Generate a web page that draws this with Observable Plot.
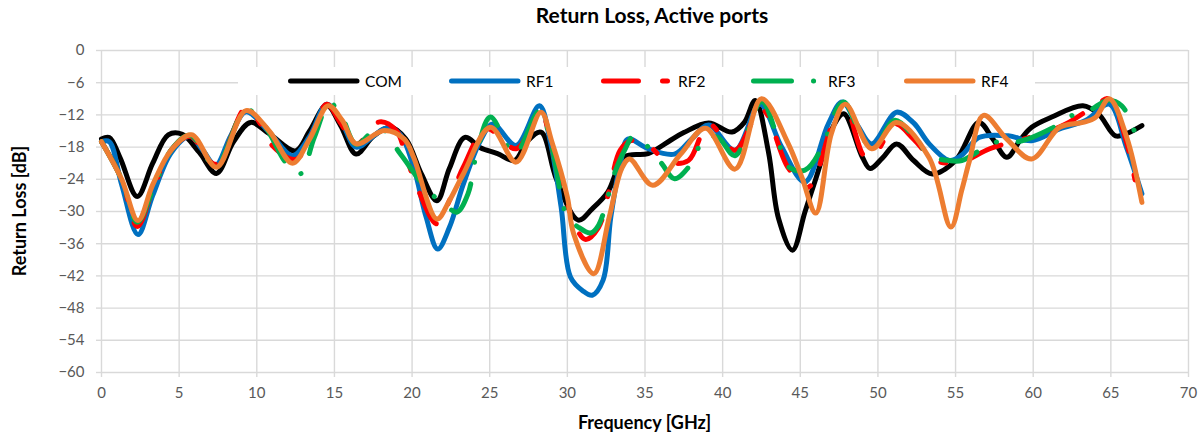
<!DOCTYPE html>
<html>
<head>
<meta charset="utf-8">
<script src="https://cdn.jsdelivr.net/npm/d3@7"></script>
<script src="https://cdn.jsdelivr.net/npm/@observablehq/plot@0.6"></script>
<style>
  html, body { margin: 0; padding: 0; background: #fff; }
  #wrap { position: relative; width: 1200px; height: 440px; font-family: Lato, "Open Sans", sans-serif; }
  #title { position: absolute; left: 0; width: 1304px; top: 2px; text-align: center; font-weight: bold; font-size: 21px; color: #000; }
  #xlab { position: absolute; left: 101px; width: 1087px; top: 411px; text-align: center; font-weight: bold; font-size: 18px; color: #000; }
  #ylab { position: absolute; left: 19px; top: 211px; transform: translate(-50%, -50%) rotate(-90deg); white-space: nowrap; font-weight: bold; font-size: 18px; color: #000; }
  #legend { position: absolute; left: 238px; top: 67px; width: 797px; height: 28px; background: #fff; }
  .li { position: absolute; top: 0; height: 28px; display: flex; align-items: center; font-size: 15.5px; color: #000; }
  .li svg { margin-right: 5px; }
</style>
</head>
<body>
<div id="wrap">
  <div id="chart"></div>
  <div id="title">Return Loss, Active ports</div>
  <div id="xlab">Frequency [GHz]</div>
  <div id="ylab">Return Loss [dB]</div>
  <div id="legend"></div>
</div>
<script>
// ---- data ----
const xTicks = [0, 5, 10, 15, 20, 25, 30, 35, 40, 45, 50, 55, 60, 65, 70];
const yTicks = [0, -6, -12, -18, -24, -30, -36, -42, -48, -54, -60];
const seriesNames = ["COM", "RF1", "RF2", "RF3", "RF4"];

const comFreq = [0, 0.5, 1.2, 2.3, 3.3, 4.3, 5.2, 6.3, 7.4, 8.5, 9.6, 10.8, 12.5, 13.4, 14.5, 15.4, 16.4, 17.5, 18.6, 19.6, 20.6, 21.6, 22.4, 23.4, 24.4, 25.5, 26.6, 27.4, 28.3, 29.3, 30.7, 31.6, 32.6, 33.7, 35.2, 36.5, 37.5, 39.1, 40.6, 41.4, 42.1, 42.95, 43.6, 44.5, 45.3, 46.0, 47.2, 47.8, 49.0, 49.5, 50.3, 51.2, 52.3, 53.5, 55, 56.5, 57.4, 58.3, 59.2, 59.9, 61.2, 63.2, 64.2, 65.3, 66.0, 67];
const comDb   = [-16.5, -16.2, -20, -27.2, -21, -15.7, -15.6, -19, -22.9, -17, -13.4, -15.5, -18.7, -15, -10.2, -14, -19.3, -16, -14.3, -16.5, -23, -28, -22, -16.2, -18.1, -19.2, -20.5, -17, -15.2, -24, -31.6, -29.5, -26.4, -19.8, -19.2, -17, -15.3, -13.5, -15.2, -13.4, -9.3, -18.9, -31.3, -37.2, -30.1, -23.9, -13.7, -11.8, -19.9, -22, -20, -17.4, -20.5, -23, -20.5, -13.4, -16.5, -19.9, -16.5, -14.3, -12.4, -10.3, -11.8, -15.9, -15.5, -14];

const rf1Freq = [0, 0.5, 1.3, 2.35, 3.3, 4.5, 5.7, 6.5, 7.35, 8.3, 9.3, 10.8, 12.3, 13.4, 14.5, 15.4, 16.4, 17.5, 18.3, 19.2, 20.1, 20.9, 21.65, 22.4, 23.3, 24.4, 25.2, 26.7, 28.2, 28.9, 29.6, 30.2, 31.0, 31.6, 32.3, 32.8, 33.45, 33.9, 35.2, 36.9, 38.0, 39.1, 40.8, 42.4, 43.8, 45.3, 46.8, 47.7, 48.7, 49.6, 51.2, 52.3, 53.3, 54.6, 55.4, 56.5, 58.4, 59.9, 61.7, 63.4, 64.9, 66.0, 67];
const rf1Db   = [-17, -17, -25, -34.3, -27, -19, -16, -18.5, -21.4, -16, -11.4, -15.2, -19.6, -16, -10, -13, -18, -16, -14.5, -15.5, -21.75, -31, -37, -33, -24.9, -16.8, -13.7, -17.7, -10.3, -17, -29.2, -42.2, -44.8, -45.6, -42.8, -31, -20.5, -16.5, -18.3, -19.3, -16.5, -13.9, -18.6, -10, -18, -24.5, -13.7, -9.6, -14, -17.4, -11.5, -13.5, -17.4, -20.5, -19.5, -16.2, -15.9, -16.8, -14.6, -13, -10, -18, -26.7];

const rf2Freq = [0, 1.3, 2.3, 3.3, 4.5, 5.7, 7.35, 9.3, 10.2, 11.0, 12.5, 13.5, 14.5, 15.4, 16.4, 17.9, 19.0, 19.6, 20.4, 21.6, 22.4, 23.3, 24.8, 26.7, 28.3, 29.0, 29.9, 31.15, 32.0, 32.7, 33.4, 34.1, 35.2, 36.5, 37.8, 39.1, 40.8, 42.5, 44.2, 45.5, 47.0, 47.8, 49.2, 50.0, 51.1, 52.3, 53.5, 54.5, 55.4, 57.2, 58.7, 60.6, 62.1, 64.0, 64.9, 66.0, 66.8];
const rf2Db   = [-17, -24, -32.8, -26, -18.5, -16, -21.2, -10.7, -13.5, -17.7, -20.3, -16, -10, -13.5, -17.5, -13.3, -15, -19.6, -26, -32.3, -28, -21.75, -14.6, -18.3, -11.8, -18, -28, -35.2, -33, -26, -18.6, -16.8, -17.7, -20.8, -20.5, -13.7, -18.6, -10.9, -21.75, -25.5, -14.3, -9.6, -19.9, -18.5, -13.7, -16.5, -20.2, -21, -20.8, -18.3, -17, -15.5, -13.7, -10.3, -9, -17, -28];

const rf3Freq = [0, 1.3, 2.3, 3.3, 4.5, 5.7, 7.35, 9.3, 10.5, 11.9, 12.8, 13.7, 14.7, 15.5, 16.4, 17.9, 19.25, 21.0, 22.3, 22.9, 23.6, 24.2, 25.05, 26.6, 28.2, 29.0, 30.0, 30.75, 31.5, 32.0, 33.1, 33.7, 34.3, 36.0, 36.9, 37.8, 38.9, 39.7, 40.8, 42.5, 43.5, 44.2, 45.3, 46.6, 47.0, 47.8, 49.2, 50.0, 51.1, 53.4, 54.6, 55.4, 57.2, 58.1, 59.0, 61.2, 62.5, 63.6, 64.8, 65.7, 66.4, 67];
const rf3Db   = [-17, -24, -32, -26, -18.5, -15.8, -21.5, -11, -14, -21, -23, -16.2, -9.8, -12.5, -17.5, -14.3, -19.3, -26, -29.2, -30.1, -26.7, -18.6, -12.4, -19.3, -11.3, -18, -31, -33, -34, -32.6, -22.4, -18.5, -15.9, -20.8, -23.9, -21.75, -16.2, -16.2, -19.6, -9.5, -16, -21.6, -22.3, -16.8, -13, -9.6, -17, -17, -13, -19.6, -20.5, -20.5, -17.5, -16.8, -17, -14.5, -12.1, -11.2, -9.3, -10.3, -14.3, -18];

const rf4Freq = [0, 1.3, 2.35, 3.3, 4.5, 5.8, 7.4, 9.3, 10.8, 12.3, 13.4, 14.6, 15.5, 16.4, 18.2, 19.5, 20.1, 21.6, 22.4, 23.3, 25.05, 26.7, 28.3, 29.0, 30.0, 30.4, 31.7, 32.7, 33.5, 34.0, 35.5, 37.3, 38.9, 40.8, 42.5, 44.2, 45.1, 46.0, 47.0, 47.9, 49.6, 51.2, 53.3, 54.7, 55.4, 55.9, 56.8, 58.3, 59.9, 61.7, 63.2, 64.0, 64.9, 66.0, 67];
const rf4Db   = [-17, -24, -31.7, -25, -18.5, -15.7, -21.75, -11.2, -15, -21, -16.5, -10.3, -13, -17.4, -14.9, -16.5, -19.9, -31.4, -28, -23, -14.3, -20.8, -11.5, -17, -27.3, -34.1, -41.6, -31, -22, -20.2, -25.1, -19.3, -14.5, -22.1, -9, -17.2, -23.6, -30.3, -15.5, -10, -18.3, -13.4, -20, -32.9, -26, -20.5, -12.1, -16.5, -20.2, -14.3, -13.4, -12.5, -9, -16, -28.3];

// ---- build ----
const toRows = (fs, ds) => fs.map((f, i) => ({f, db: ds[i]}));
const series = [
  {name: "COM", rows: toRows(comFreq, comDb), color: "#000000", dash: null},
  {name: "RF1", rows: toRows(rf1Freq, rf1Db), color: "#0070C0", dash: null},
  {name: "RF2", rows: toRows(rf2Freq, rf2Db), color: "#FF0000", dash: "35,24,5,24"},
  {name: "RF3", rows: toRows(rf3Freq, rf3Db), color: "#00B050", dash: "38,22,0.1,22"},
  {name: "RF4", rows: toRows(rf4Freq, rf4Db), color: "#ED7D31", dash: null}
];
const LW = 5;
const grid = "#d9d9d9";

const chart = Plot.plot({
  width: 1200,
  height: 440,
  marginLeft: 101,
  marginRight: 12,
  marginTop: 50,
  marginBottom: 68,
  style: {fontFamily: "Lato, 'Open Sans', sans-serif", fontSize: "15px", color: "#595959", background: "#fff"},
  x: {domain: [0, 70]},
  y: {domain: [-60, 0]},
  marks: [
    Plot.gridX(xTicks, {stroke: grid, strokeOpacity: 1, strokeWidth: 1.4}),
    Plot.gridY(yTicks, {stroke: grid, strokeOpacity: 1, strokeWidth: 1.4}),
    Plot.axisX(xTicks, {tickSize: 5, stroke: grid, strokeOpacity: 1, strokeWidth: 1.4, tickPadding: 10, label: null, fill: "#595959", fontSize: 15}),
    Plot.axisY(yTicks, {tickSize: 5, stroke: grid, strokeOpacity: 1, strokeWidth: 1.4, tickPadding: 12, label: null, fill: "#595959", fontSize: 15}),
    ...series.map(s => Plot.line(s.rows, {
      x: "f", y: "db", stroke: s.color, strokeWidth: LW, curve: "catmull-rom",
      strokeLinecap: "round", strokeLinejoin: "round",
      strokeDasharray: s.dash || undefined
    }))
  ]
});
document.getElementById("chart").appendChild(chart);

// legend
const legend = document.getElementById("legend");
const legendX = [50, 211, 363, 513, 666];
series.forEach((s, i) => {
  const item = document.createElement("div");
  item.className = "li";
  item.style.left = legendX[i] + "px";
  const svg = d3.create("svg").attr("width", 72).attr("height", 10);
  svg.append("line").attr("x1", 2.5).attr("x2", 69).attr("y1", 5).attr("y2", 5)
    .attr("stroke", s.color).attr("stroke-width", LW).attr("stroke-linecap", "round")
    .attr("stroke-dasharray", s.dash);
  item.appendChild(svg.node());
  const t = document.createElement("span");
  t.textContent = s.name;
  item.appendChild(t);
  legend.appendChild(item);
});
</script>
</body>
</html>
